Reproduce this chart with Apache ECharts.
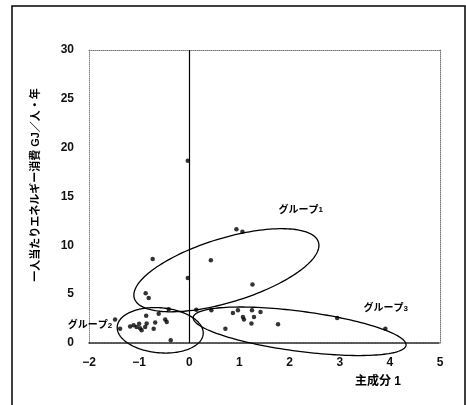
<!DOCTYPE html>
<html><head><meta charset="utf-8">
<script src="https://cdn.jsdelivr.net/npm/echarts@6/dist/echarts.min.js"></script>
<style>html,body{margin:0;padding:0;background:#fff}#chart{width:466px;height:405px}</style>
</head><body><div id="chart"></div>
<script>
// Axis ticks
const xTicks = [-2, -1, 0, 1, 2, 3, 4, 5];
const yTicks = [0, 5, 10, 15, 20, 25, 30];

// Principal component 1 score vs. per-capita energy use
const pointX = [-0.03, 0.94, 1.06, -0.73, 0.43, -0.03, 1.26, -0.87, -0.81,
  -0.41, -0.61, -0.86, -0.48, -0.45, -0.68, -0.85, -0.88, -0.95, -0.98, -1.05, -1.11, -1.18, -1.00, -0.71, -1.48, -1.38, -0.37,
  0.14, 0.44, 0.87, 0.97, 1.25, 1.42, 1.07, 1.09, 1.29, 1.24, 1.77, 0.72, 2.95, 3.91];
const pointY = [18.65, 11.65, 11.4, 8.6, 8.47, 6.66, 5.98, 5.1, 4.6,
  3.45, 3.0, 2.8, 2.4, 2.15, 2.09, 2.0, 1.64, 1.3, 1.5, 1.64, 1.81, 1.7, 1.98, 1.47, 2.4, 1.47, 0.28,
  3.4, 3.35, 3.07, 3.35, 3.35, 3.18, 2.66, 2.4, 2.66, 1.99, 1.92, 1.47, 2.56, 1.47];

// Group outlines: centre and two conjugate half-axes, in data units
const groupNames = ['1', '2', '3'];
const groupCenters = [[0.74, 7.45], [-0.58, 1.30], [2.2, 1.2]];
const groupAxisU = [[1.836, 2.876], [0.857, -0.384], [2.122, -1.431]];
const groupAxisV = [[0.187, -3.135], [-0.039, -2.296], [-0.052, -2.032]];
const groupLabelAt = [[2.22, 13.6], [-1.98, 1.8], [3.92, 3.55]];

const FONT = '"Liberation Sans", "Noto Sans CJK JP", sans-serif';

const chart = echarts.init(document.getElementById('chart'), null, { renderer: 'canvas' });

function renderOutline(params, api) {
  const i = params.dataIndex;
  const c = groupCenters[i], u = groupAxisU[i], v = groupAxisV[i];
  const pts = [];
  const n = 160;
  for (let k = 0; k < n; k++) {
    const t = k / n * Math.PI * 2;
    pts.push(api.coord([
      c[0] + u[0] * Math.cos(t) + v[0] * Math.sin(t),
      c[1] + u[1] * Math.cos(t) + v[1] * Math.sin(t)
    ]));
  }
  return { type: 'polygon', shape: { points: pts }, style: { fill: null, stroke: '#000', lineWidth: 1.3 } };
}

function renderGroupLabel(params, api) {
  const i = params.dataIndex;
  const p = api.coord(groupLabelAt[i]);
  return {
    type: 'text', x: p[0], y: p[1],
    style: {
      text: '{a|グループ}{b|' + groupNames[i] + '}',
      align: 'center', verticalAlign: 'middle',
      rich: {
        a: { fontFamily: FONT, fontWeight: 'bold', fontSize: 10, fill: '#000' },
        b: { fontFamily: FONT, fontWeight: 'bold', fontSize: 8, fill: '#000' }
      }
    }
  };
}

const axisLabelStyle = { fontFamily: FONT, fontWeight: 'bold', fontSize: 12, color: '#111' };

chart.setOption({
  animation: false,
  backgroundColor: '#fff',
  grid: { left: 89, right: 26, top: 50, bottom: 62 },
  xAxis: [{
    type: 'value', min: xTicks[0], max: xTicks[xTicks.length - 1], interval: 1,
    axisLine: { onZero: false, lineStyle: { color: '#222', width: 1.5, type: [2, 1] } },
    axisTick: { show: false }, splitLine: { show: false },
    axisLabel: Object.assign({ margin: 14, formatter: v => String(v).replace('-', '−') }, axisLabelStyle)
  }, {
    type: 'value', position: 'top', min: xTicks[0], max: xTicks[xTicks.length - 1], interval: 1,
    axisLine: { onZero: false, lineStyle: { color: '#777', width: 1, type: 'dotted' } },
    axisTick: { show: false }, splitLine: { show: false }, axisLabel: { show: false }
  }],
  yAxis: [{
    type: 'value', min: yTicks[0], max: yTicks[yTicks.length - 1], interval: 5,
    axisLine: { show: true, onZero: false, lineStyle: { color: '#888', width: 1, type: 'dotted' } },
    axisTick: { show: false }, splitLine: { show: false },
    axisLabel: Object.assign({ margin: 15 }, axisLabelStyle)
  }, {
    type: 'value', position: 'right', min: yTicks[0], max: yTicks[yTicks.length - 1], interval: 5,
    axisLine: { show: true, onZero: false, lineStyle: { color: '#777', width: 1, type: 'dotted' } },
    axisTick: { show: false }, splitLine: { show: false }, axisLabel: { show: false }
  }],
  series: [{
    type: 'scatter',
    data: pointX.map((x, i) => [x, pointY[i]]),
    symbol: 'circle', symbolSize: 4.5,
    itemStyle: { color: '#000' },
    markLine: {
      silent: true, symbol: 'none', label: { show: false },
      lineStyle: { color: '#000', type: 'solid', width: 1.2 },
      data: [{ xAxis: 0 }]
    },
    z: 3
  }, {
    type: 'custom', clip: false,
    data: groupCenters,
    renderItem: renderOutline,
    z: 2
  }, {
    type: 'custom', clip: false,
    data: groupLabelAt,
    renderItem: renderGroupLabel,
    z: 4
  }],
  graphic: [{
    type: 'rect', shape: { x: 12, y: 6, width: 453, height: 410 },
    style: { fill: null, stroke: '#000', lineWidth: 1.5 }, silent: true
  }, {
    type: 'text', x: 36, y: 185, rotation: Math.PI / 2,
    style: {
      text: '一人当たりエネルギー消費 GJ／人・年', align: 'center', verticalAlign: 'middle',
      fontFamily: FONT, fontWeight: 'bold', fontSize: 11, fill: '#000'
    }
  }, {
    type: 'text', x: 378, y: 382,
    style: {
      text: '主成分 1', align: 'center', verticalAlign: 'middle',
      fontFamily: FONT, fontWeight: 'bold', fontSize: 12, fill: '#000'
    }
  }]
});
</script></body></html>
